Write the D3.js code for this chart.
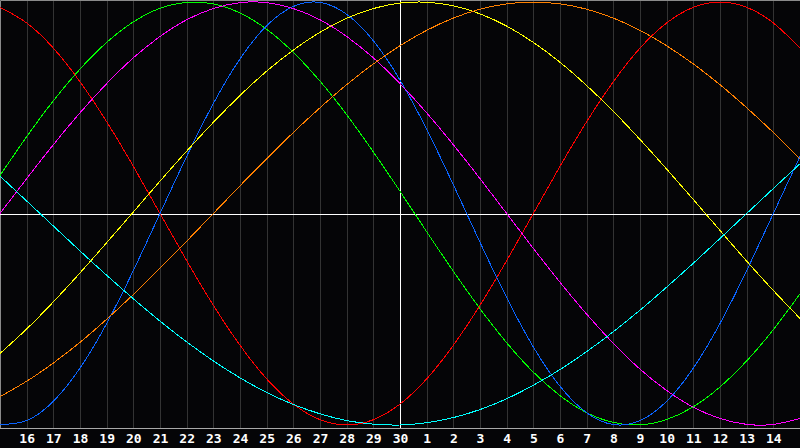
<!DOCTYPE html>
<html>
<head>
<meta charset="utf-8">
<script src="https://cdn.jsdelivr.net/npm/d3@7"></script>
<style>
    html, body { margin: 0; padding: 0; background: #000; }
    svg { display: block; }
</style>
</head>
<body>
<div id="chart"></div>
<script>
// day labels under the gridlines (15th at both edges is not labelled)
var dayLabels = ['16', '17', '18', '19', '20', '21', '22', '23', '24', '25', '26', '27', '28', '29', '30',
    '1', '2', '3', '4', '5', '6', '7', '8', '9', '10', '11', '12', '13', '14'];
var todayIndex = 15;

// values, one per day from the left edge to the right edge
var red = [0.975, 0.901, 0.782, 0.623, 0.434, 0.223, 0, -0.223, -0.434, -0.623, -0.782, -0.901, -0.975, -1,
    -0.975, -0.901, -0.782, -0.623, -0.434, -0.223, 0, 0.223, 0.434, 0.623, 0.782, 0.901, 0.975, 1, 0.975, 0.901, 0.782];
var green = [0.18, 0.363, 0.533, 0.683, 0.809, 0.906, 0.97, 0.998, 0.991, 0.948, 0.871, 0.762, 0.626, 0.467, 0.291,
    0.105, -0.086, -0.273, -0.45, -0.611, -0.75, -0.861, -0.942, -0.988, -0.999, -0.974, -0.914, -0.82, -0.697, -0.549, -0.38];
var blue = [-0.998, -0.979, -0.888, -0.731, -0.52, -0.27, 0, 0.27, 0.52, 0.731, 0.888, 0.979, 0.998, 0.942, 0.817,
    0.631, 0.398, 0.136, -0.136, -0.398, -0.631, -0.817, -0.942, -0.998, -0.979, -0.888, -0.731, -0.52, -0.27, 0, 0.27];
var magenta = [0, 0.165, 0.325, 0.476, 0.614, 0.736, 0.837, 0.916, 0.969, 0.997, 0.997, 0.969, 0.916, 0.837, 0.736,
    0.614, 0.476, 0.325, 0.165, 0, -0.165, -0.325, -0.476, -0.614, -0.736, -0.837, -0.916, -0.969, -0.997, -0.997, -0.969];
var yellow = [-0.662, -0.546, -0.418, -0.281, -0.138, 0.007, 0.153, 0.295, 0.431, 0.558, 0.673, 0.773, 0.857, 0.923, 0.969,
    0.995, 0.999, 0.982, 0.944, 0.886, 0.809, 0.715, 0.605, 0.483, 0.35, 0.21, 0.066, -0.08, -0.225, -0.364, -0.496];
var orange = [-0.866, -0.793, -0.707, -0.609, -0.5, -0.383, -0.259, -0.131, 0, 0.131, 0.259, 0.383, 0.5, 0.609, 0.707,
    0.793, 0.866, 0.924, 0.966, 0.991, 1, 0.991, 0.966, 0.924, 0.866, 0.793, 0.707, 0.609, 0.5, 0.383, 0.259];
var cyan = [0.177, 0.059, -0.059, -0.177, -0.292, -0.403, -0.509, -0.607, -0.697, -0.777, -0.846, -0.903, -0.947, -0.979, -0.996,
    -1, -0.989, -0.965, -0.927, -0.876, -0.812, -0.738, -0.653, -0.559, -0.457, -0.348, -0.235, -0.118, 0, 0.118, 0.235];

var seriesColors = ['#ff0000', '#00ff00', '#0a64ff', '#ff00ff', '#ffff00', '#ff8000', '#00ffff'];
var seriesList = [red, green, blue, magenta, yellow, orange, cyan];

var width = 800,
    height = 448,
    plotBottom = 428;

var x = d3.scaleLinear().domain([0, dayLabels.length + 1]).range([0, width]);
var y = d3.scaleLinear().domain([-1, 1]).range([425, 2]);

var svg = d3.select('#chart')
    .append('svg')
    .attr('width', width)
    .attr('height', height);

svg.append('rect')
    .attr('width', width)
    .attr('height', height)
    .attr('fill', '#050507');

/* day gridlines */
svg.append('g')
    .selectAll('line')
    .data(dayLabels)
    .join('line')
    .attr('x1', function (d, i) { return Math.round(x(i + 1)) + 0.5; })
    .attr('x2', function (d, i) { return Math.round(x(i + 1)) + 0.5; })
    .attr('y1', 0)
    .attr('y2', plotBottom)
    .attr('stroke', '#333333');

/* frame */
svg.append('path')
    .attr('d', 'M0.5,' + plotBottom + 'V0.5H' + width)
    .attr('fill', 'none')
    .attr('stroke', '#8a8a8a');
svg.append('line')
    .attr('x1', 0)
    .attr('x2', width)
    .attr('y1', plotBottom + 0.5)
    .attr('y2', plotBottom + 0.5)
    .attr('stroke', '#a8a8a8');

/* today and zero line */
svg.append('line')
    .attr('x1', Math.round(x(todayIndex)) + 0.5)
    .attr('x2', Math.round(x(todayIndex)) + 0.5)
    .attr('y1', 0)
    .attr('y2', plotBottom)
    .attr('stroke', '#ffffff');
svg.append('line')
    .attr('x1', 0)
    .attr('x2', width)
    .attr('y1', Math.round(y(0)) + 0.5)
    .attr('y2', Math.round(y(0)) + 0.5)
    .attr('stroke', '#ffffff');

/* curves, drawn without smoothing like the original */
var line = d3.line()
    .x(function (d, i) { return x(i); })
    .y(function (d) { return y(d); })
    .curve(d3.curveNatural);

svg.append('g')
    .selectAll('path')
    .data(seriesList)
    .join('path')
    .attr('d', line)
    .attr('fill', 'none')
    .attr('stroke', function (d, i) { return seriesColors[i]; })
    .attr('stroke-width', 1)
    .attr('shape-rendering', 'crispEdges');

/* day labels */
svg.append('g')
    .selectAll('text')
    .data(dayLabels)
    .join('text')
    .attr('x', function (d, i) { return x(i + 1) + 0.5; })
    .attr('y', 443)
    .attr('text-anchor', 'middle')
    .attr('fill', '#ffffff')
    .attr('font-family', '"DejaVu Sans Mono", monospace')
    .attr('font-weight', 'bold')
    .attr('font-size', '13px')
    .text(function (d) { return d; });
</script>
</body>
</html>
